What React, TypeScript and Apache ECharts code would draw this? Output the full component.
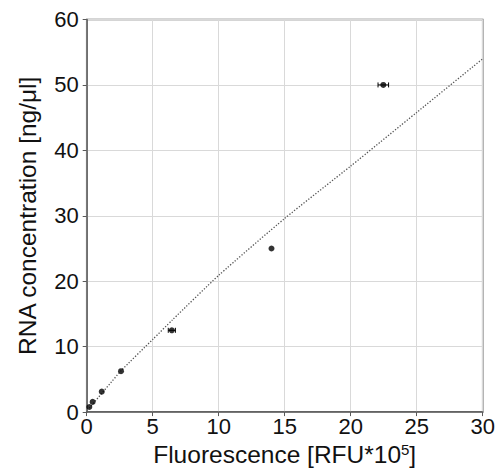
import React, { useEffect, useRef } from "react";
import * as echarts from "echarts";

const fluorescence = [0.2, 0.45, 1.14, 2.6, 6.45, 14.0, 22.47];
const rnaConc = [0.78, 1.56, 3.125, 6.25, 12.5, 25, 50];
const fluorErr = [0, 0, 0, 0, 0.27, 0, 0.4];

const trendX = [0.2, 2.6, 5, 6.5, 10, 15, 20, 25, 30];
const trendY = [0.6, 6.3, 11.1, 14.1, 20.9, 29.6, 37.6, 45.8, 54];

const xTicks = [0, 5, 10, 15, 20, 25, 30];
const yTicks = [0, 10, 20, 30, 40, 50, 60];

const FONT = "'Liberation Sans', Arial, Helvetica, sans-serif";

export default function App() {
  const ref = useRef<HTMLDivElement>(null);
  useEffect(() => {
    if (!ref.current) return;
    const chart = echarts.init(ref.current, null, { renderer: "svg" });
    const points = fluorescence.map((x, i) => [x, rnaConc[i]]);
    const errData = fluorescence.map((x, i) => [x, rnaConc[i], fluorErr[i]]);
    const trend = trendX.map((x, i) => [x, trendY[i]]);
    chart.setOption({
      animation: false,
      textStyle: { fontFamily: FONT },
      grid: {
        left: 86.7,
        right: 20.3,
        top: 19.5,
        bottom: 57,
        show: true,
        borderColor: "#595959",
        borderWidth: 1.5,
      },
      xAxis: {
        type: "value",
        min: xTicks[0],
        max: xTicks[xTicks.length - 1],
        interval: 5,
        name: "Fluorescence [RFU*10{sup|5}]",
        nameLocation: "middle",
        nameGap: 29,
        nameTextStyle: {
          fontSize: 24.5,
          color: "#111",
          fontFamily: FONT,
          rich: {
            sup: { fontSize: 15, verticalAlign: "top", padding: [0, 0, 10, 0], color: "#111", fontFamily: FONT },
          },
        },
        axisLine: { show: true, lineStyle: { color: "#595959", width: 1.5 } },
        axisTick: { show: true, inside: false, length: 4, lineStyle: { color: "#595959" } },
        axisLabel: { fontSize: 22, color: "#111", margin: 3, fontFamily: FONT },
        splitLine: { show: true, lineStyle: { color: "#d9d9d9", width: 1 } },
      },
      yAxis: {
        type: "value",
        min: yTicks[0],
        max: yTicks[yTicks.length - 1],
        interval: 10,
        name: "RNA concentration [ng/μl]",
        nameLocation: "middle",
        nameGap: 47,
        nameTextStyle: { fontSize: 24.5, color: "#111", fontFamily: FONT },
        axisLine: { show: true, lineStyle: { color: "#595959", width: 1.5 } },
        axisTick: { show: true, inside: false, length: 4, lineStyle: { color: "#595959" } },
        axisLabel: { fontSize: 22, color: "#111", margin: 8, fontFamily: FONT },
        splitLine: { show: true, lineStyle: { color: "#d9d9d9", width: 1 } },
      },
      series: [
        {
          type: "line",
          data: trend,
          showSymbol: false,
          symbol: "none",
          smooth: 0.2,
          lineStyle: { color: "#555555", width: 1.3, type: [1.3, 1.7] },
          z: 2,
        },
        {
          type: "custom",
          data: errData,
          z: 3,
          renderItem: (params: any, api: any) => {
            const x = api.value(0);
            const y = api.value(1);
            const e = api.value(2);
            if (!e) return { type: "group", children: [] };
            const a = api.coord([x - e, y]);
            const b = api.coord([x + e, y]);
            const style = { stroke: "#000", lineWidth: 1 };
            return {
              type: "group",
              children: [
                { type: "line", shape: { x1: a[0], y1: a[1], x2: b[0], y2: b[1] }, style },
                { type: "line", shape: { x1: a[0], y1: a[1] - 2.5, x2: a[0], y2: a[1] + 2.5 }, style },
                { type: "line", shape: { x1: b[0], y1: b[1] - 2.5, x2: b[0], y2: b[1] + 2.5 }, style },
              ],
            };
          },
        },
        {
          type: "scatter",
          data: points,
          symbol: "circle",
          symbolSize: 6,
          itemStyle: { color: "#000" },
          z: 4,
        },
      ],
    });
    return () => chart.dispose();
  }, []);
  return <div ref={ref} style={{ width: 503, height: 472, position: "absolute", left: 0, top: 0 }} />;
}
